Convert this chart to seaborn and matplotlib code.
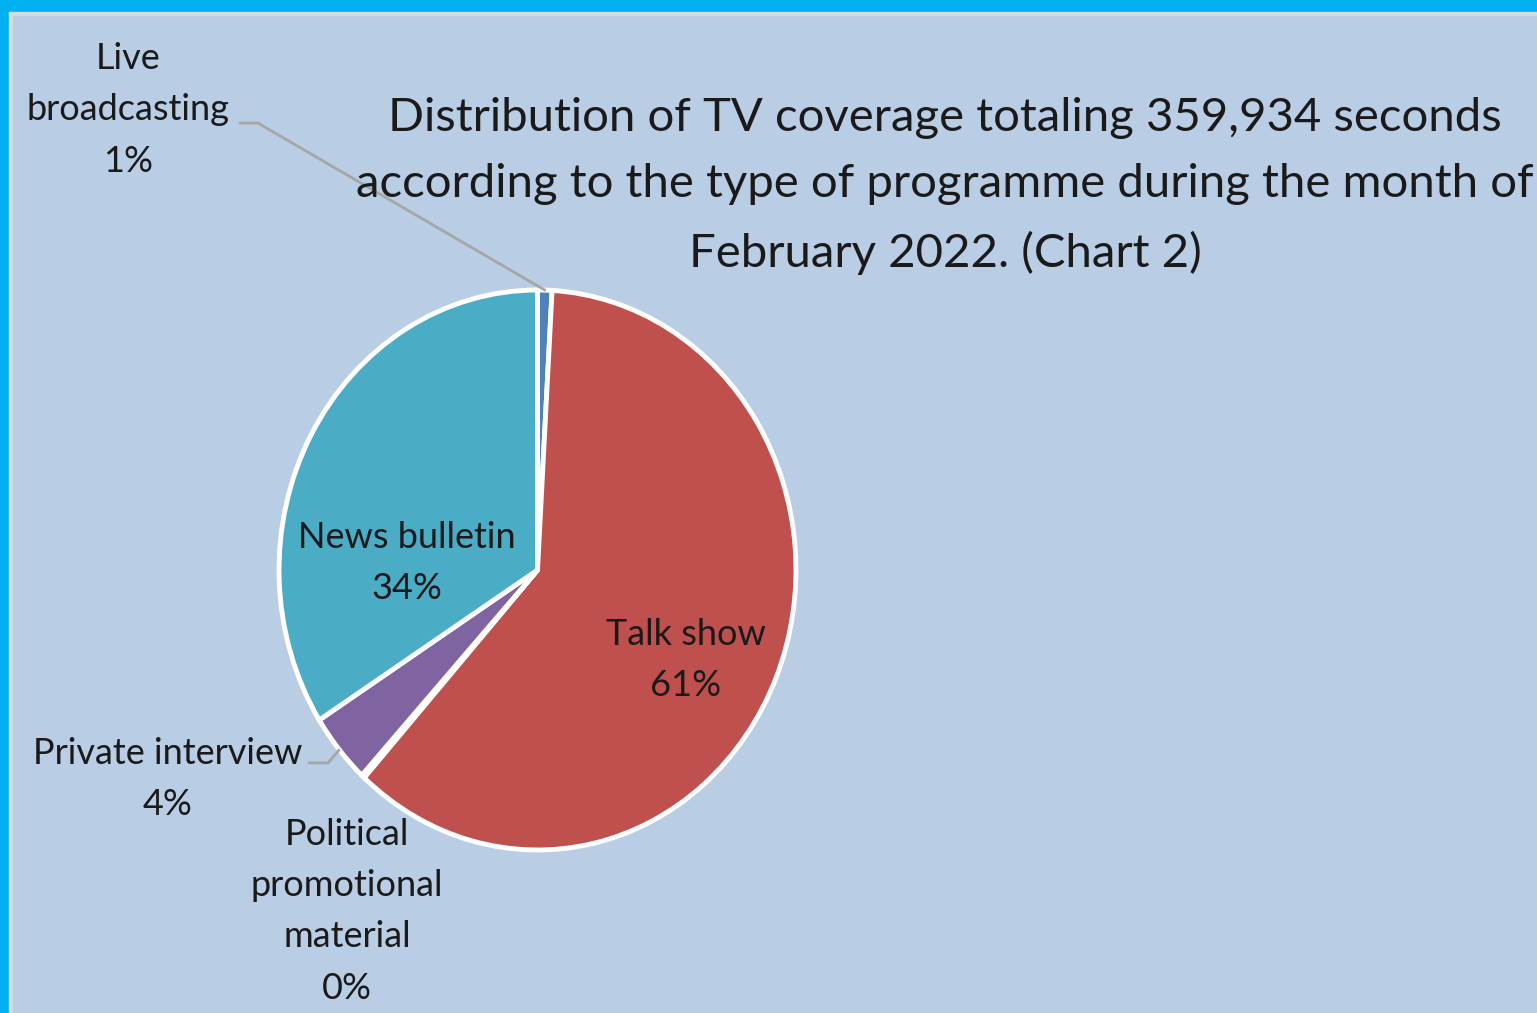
import matplotlib
matplotlib.use("Agg")
import numpy as np
import matplotlib.pyplot as plt
import seaborn as sns
from matplotlib.patches import Rectangle

# data (percent of 359,934 seconds)
programmes = ["Live\nbroadcasting", "Talk show", "Political\npromotional\nmaterial",
              "Private interview", "News bulletin"]
shares = [0.9, 60.8, 0.2, 4.1, 34.0]
colors = ["#4F81BD", "#C0504D", "#9BBB59", "#8064A2", "#4BACC6"]

title = ("Distribution of TV coverage totaling 359,934 seconds\n"
         "according to the type of programme during the month of\n"
         "February 2022. (Chart 2)")

sns.set_theme(style="white")
plt.rcParams["font.family"] = ["Lato", "DejaVu Sans"]

bg = "#B9CDE5"
W, H = 1537, 1013
fig = plt.figure(figsize=(W / 100, H / 100), dpi=100, facecolor=bg)

# frame: cyan bars on top and left, thin grey line inside
fig.patches.append(Rectangle((0, 1 - 12 / H), 1, 12 / H, transform=fig.transFigure,
                             color="#00B0F0", zorder=0))
fig.patches.append(Rectangle((0, 0), 9 / W, 1, transform=fig.transFigure,
                             color="#00B0F0", zorder=0))
fig.patches.append(Rectangle((9 / W, 0), 3 / W, 1 - 12 / H, transform=fig.transFigure,
                             color="#D9D9D9", zorder=0))
fig.patches.append(Rectangle((9 / W, 1 - 15 / H), 1, 3 / H, transform=fig.transFigure,
                             color="#D9D9D9", zorder=0))

# pie (slightly stretched vertically, as in the original)
cx, cy, rx, ry = 537.5, 570, 258.5, 280
ax = fig.add_axes([(cx - rx) / W, (H - cy - ry) / H, 2 * rx / W, 2 * ry / H])
ax.set_facecolor("none")
wedges, _ = ax.pie(shares, colors=colors, startangle=90, counterclock=False,
                   radius=1, wedgeprops=dict(edgecolor="white", linewidth=3.5))
ax.set_xlim(-1, 1)
ax.set_ylim(-1, 1)
ax.set_aspect("auto")
ax.axis("off")

pct = [f"{round(s):.0f}%" for s in shares]
lab = dict(ha="center", va="center", fontsize=26, color="#1a1a1a",
           linespacing=1.68, clip_on=False)


def edge_point(w):
    a = np.deg2rad((w.theta1 + w.theta2) / 2)
    return np.cos(a), np.sin(a)


# inside labels
ax.text(-0.505, 0.025, f"{programmes[4]}\n{pct[4]}", **lab)
ax.text(0.574, -0.321, f"{programmes[1]}\n{pct[1]}", **lab)

# outside labels with leader lines
ax.text(-1.584, 1.643, f"{programmes[0]}\n{pct[0]}", **lab)
ex, ey = edge_point(wedges[0])
ax.plot([-1.151, -1.081, ex], [1.596, 1.596, ey], color="#A6A6A6", lw=2,
        clip_on=False)
ax.text(-1.432, -0.746, f"{programmes[3]}\n{pct[3]}", **lab)
ax.plot([-0.884, -0.810, -0.768], [-0.689, -0.689, -0.643], color="#A6A6A6", lw=2,
        clip_on=False)
ax.text(-0.737, -1.218, f"{programmes[2]}\n{pct[2]}", **lab)

fig.text(945 / W, 1 - 186 / H, title, ha="center", va="center", fontsize=34,
         color="#1a1a1a", linespacing=1.7)

fig.savefig("out.png", dpi=100, facecolor=bg)
